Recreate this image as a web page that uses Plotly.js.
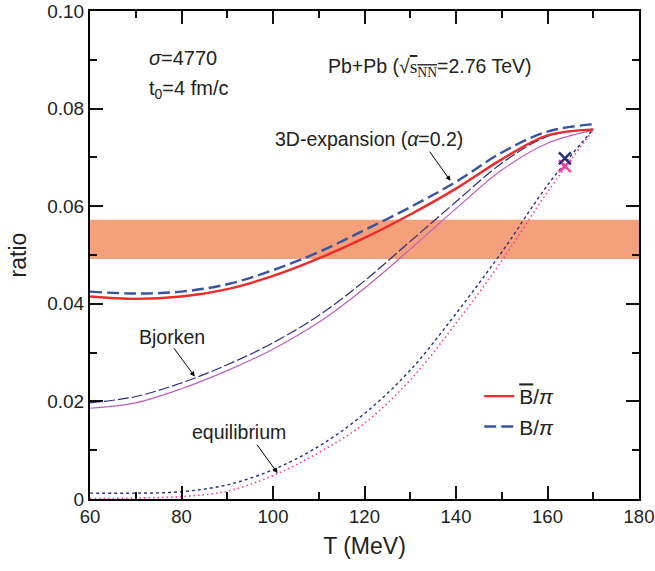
<!DOCTYPE html>
<html>
<head>
<meta charset="utf-8">
<script src="https://cdn.plot.ly/plotly-3.0.1.min.js"></script>
<style>html,body{margin:0;padding:0;background:#fff;}#chart{width:655px;height:571px;}</style>
</head>
<body>
<div id="chart"></div>
<script>
// Temperature grid (MeV)
const T = [60, 70, 80, 90, 100, 110, 120, 130, 140, 150, 160, 170];
// 3D-expansion (alpha = 0.2)
const antiB3D = [0.0415, 0.0410, 0.0415, 0.0430, 0.0457, 0.0493, 0.0535, 0.0583, 0.0636, 0.0696, 0.0745, 0.0757];
const B3D     = [0.0425, 0.0421, 0.0425, 0.0440, 0.0469, 0.0506, 0.0551, 0.0598, 0.0650, 0.0710, 0.0753, 0.0768];
// Bjorken
const BBjorken     = [0.0197, 0.0210, 0.0238, 0.0275, 0.0320, 0.0376, 0.0447, 0.0528, 0.0609, 0.0688, 0.0743, 0.0758];
const antiBBjorken = [0.0186, 0.0197, 0.0226, 0.0263, 0.0307, 0.0362, 0.0432, 0.0512, 0.0595, 0.0674, 0.0729, 0.0756];
// equilibrium
const BEq     = [0.0012, 0.0012, 0.0015, 0.0029, 0.0060, 0.0108, 0.0175, 0.0264, 0.0380, 0.0506, 0.0643, 0.0758];
const antiBEq = [0.0001, 0.0002, 0.0005, 0.0016, 0.0048, 0.0095, 0.0155, 0.0244, 0.0360, 0.0488, 0.0629, 0.0756];
// measured band and points
const bandT = [60, 180];
const bandLo = 0.0492;
const bandHi = 0.0572;
const pointT = [163.8];
const pointB = [0.0698];
const pointAntiB = [0.0682];
// tick labels
const yTickVals = [0, 0.02, 0.04, 0.06, 0.08, 0.10];
const yTickText = ['0', '0.02', '0.04', '0.06', '0.08', '0.10'];
const xTickVals = [60, 80, 100, 120, 140, 160, 180];
const xRange = [60, 180];
const yRange = [0, 0.10];

const FONT = 'Liberation Sans, Arial, Helvetica, sans-serif';
const RED = '#ee2a2a', BLUE = '#3953a4', NAVY = '#2b2f7e', MAG = '#c05cc0', PINK = '#ff3aa0';

const traces = [
  {x: [bandT[0], bandT[1], bandT[1], bandT[0]], y: [bandLo, bandLo, bandHi, bandHi],
   fill: 'toself', fillcolor: '#f4a07a', line: {width: 0}, mode: 'lines', showlegend: false, hoverinfo: 'skip'},
  {x: T, y: BEq, mode: 'lines', line: {color: NAVY, width: 1.4, dash: '3px,3px', shape: 'spline'}, showlegend: false},
  {x: T, y: antiBEq, mode: 'lines', line: {color: PINK, width: 1.6, dash: '1.5px,3px', shape: 'spline'}, showlegend: false},
  {x: T, y: antiBBjorken, mode: 'lines', line: {color: MAG, width: 1.2, shape: 'spline'}, showlegend: false},
  {x: T, y: BBjorken, mode: 'lines', line: {color: NAVY, width: 1.2, dash: '11px,3px', shape: 'spline'}, showlegend: false},
  {x: T, y: antiB3D, mode: 'lines', name: '<span style="text-decoration:overline">B</span>/<i>π</i>',
   line: {color: RED, width: 2.4, shape: 'spline'}},
  {x: T, y: B3D, mode: 'lines', name: 'B/<i>π</i>',
   line: {color: BLUE, width: 2.4, dash: '12px,5px', shape: 'spline'}},
  {x: pointT, y: pointAntiB, mode: 'markers',
   marker: {symbol: 'x-thin', size: 12, line: {color: PINK, width: 2.5}}, showlegend: false},
  {x: pointT, y: pointB, mode: 'markers',
   marker: {symbol: 'x-thin', size: 12, line: {color: NAVY, width: 2.5}}, showlegend: false}
];

const axisCommon = {
  showline: true, linecolor: '#000', linewidth: 2, mirror: 'ticks',
  ticks: 'inside', ticklen: 13, tickwidth: 2, tickcolor: '#111',
  showgrid: false, zeroline: false,
  tickfont: {family: FONT, size: 19, color: '#222'}
};

const layout = {
  width: 655, height: 571,
  margin: {l: 90, r: 16, t: 11, b: 72},
  paper_bgcolor: '#fff', plot_bgcolor: '#fff',
  font: {family: FONT, color: '#222'},
  xaxis: Object.assign({}, axisCommon, {
    range: xRange, tickmode: 'array', tickvals: xTickVals,
    minor: {dtick: 10, ticks: 'inside', ticklen: 7, tickwidth: 2, tickcolor: '#111'},
    tickfont: {family: FONT, size: 18.5, color: '#222'},
    title: {text: 'T (MeV)', font: {family: FONT, size: 23, color: '#222'}, standoff: 12}
  }),
  yaxis: Object.assign({}, axisCommon, {
    range: yRange, tickmode: 'array', tickvals: yTickVals, ticktext: yTickText,
    minor: {dtick: 0.01, ticks: 'inside', ticklen: 7, tickwidth: 2, tickcolor: '#111'},
    title: {text: 'ratio', font: {family: FONT, size: 23, color: '#222'}, standoff: 14}
  }),
  legend: {x: 0.709, y: 0.252, xanchor: 'left', yanchor: 'top', bgcolor: 'rgba(0,0,0,0)',
           font: {family: FONT, size: 21, color: '#222'}, tracegroupgap: 0},
  annotations: [
    {x: 72.4, y: 0.0904, xref: 'x', yref: 'y', xanchor: 'left', text: '<i>σ</i>=4770', showarrow: false, font: {size: 20}},
    {x: 72.4, y: 0.0840, xref: 'x', yref: 'y', xanchor: 'left', text: 't<sub>0</sub>=4 fm/c', showarrow: false, font: {size: 20}},
    {x: 111.6, y: 0.0885, xref: 'x', yref: 'y', xanchor: 'left',
     text: 'Pb+Pb (√<span style="text-decoration:overline;font-family:Liberation Serif">s<sub>NN</sub></span>=2.76 TeV)', showarrow: false, font: {size: 19.5}},
    {x: 99.9, y: 0.0738, xref: 'x', yref: 'y', xanchor: 'left', text: '3D-expansion (<i>α</i>=0.2)', showarrow: false, font: {size: 19.5}},
    {x: 70.2, y: 0.0333, xref: 'x', yref: 'y', xanchor: 'left', text: 'Bjorken', showarrow: false, font: {size: 19.5}},
    {x: 81.8, y: 0.0137, xref: 'x', yref: 'y', xanchor: 'left', text: 'equilibrium', showarrow: false, font: {size: 19.5}},
    {x: 138.8, y: 0.0652, ax: 134.0, ay: 0.0715, xref: 'x', yref: 'y', axref: 'x', ayref: 'y', text: '',
     showarrow: true, arrowhead: 2, arrowsize: 1, arrowwidth: 1, arrowcolor: '#000'},
    {x: 82.9, y: 0.0251, ax: 78.1, ay: 0.0312, xref: 'x', yref: 'y', axref: 'x', ayref: 'y', text: '',
     showarrow: true, arrowhead: 2, arrowsize: 1, arrowwidth: 1, arrowcolor: '#000'},
    {x: 101.0, y: 0.0053, ax: 96.3, ay: 0.0114, xref: 'x', yref: 'y', axref: 'x', ayref: 'y', text: '',
     showarrow: true, arrowhead: 2, arrowsize: 1, arrowwidth: 1, arrowcolor: '#000'}
  ]
};

Plotly.newPlot('chart', traces, layout, {displayModeBar: false, staticPlot: true});
</script>
</body>
</html>
